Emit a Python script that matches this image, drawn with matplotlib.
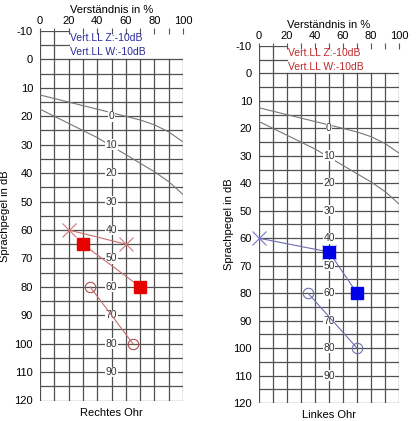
import numpy as np
import matplotlib
matplotlib.use("Agg")
import matplotlib.pyplot as plt

plt.rcParams['font.family'] = ['Liberation Sans', 'DejaVu Sans']
plt.rcParams['axes.unicode_minus'] = False

# Normkurven (Zahlen / Einsilber), Pegel in dB ueber Verstaendnis in %
norm_z_pct = [0, 20, 40, 60, 70, 80, 90, 100]
norm_z_db = [12.5, 15, 17.5, 20, 21.3, 23, 25.5, 29]
norm_w_pct = [0, 20, 40, 55, 70, 80, 90, 100]
norm_w_db = [17.5, 22.5, 27.5, 32, 36.5, 39.5, 43, 47.5]

# Hoerverlust-Skala in der Mitte
loss_labels = [0, 10, 20, 30, 40, 50, 60, 70, 80, 90]
loss_db = [20, 30, 40, 50, 60, 70, 80, 90, 100, 110]

# Rechtes Ohr
re_x_pct = [20, 60]
re_x_db = [60, 65]
re_sq_pct = [30, 70]
re_sq_db = [65, 80]
re_o_pct = [35, 65]
re_o_db = [80, 100]

# Linkes Ohr
li_x_pct = [0, 50]
li_x_db = [60, 65]
li_sq_pct = [50, 70]
li_sq_db = [65, 80]
li_o_pct = [35, 70]
li_o_db = [80, 100]

vert_ll = ["Vert.LL Z:-10dB", "Vert.LL W:-10dB"]

fig = plt.figure(figsize=(4.16, 4.21), dpi=100)
W, H = 416, 421


def panel(rect, ear, col_line, col_x, col_sq, col_o, col_txt,
          xp, xd, sp, sd, op, od, ylab_x):
    l, t, r, b = rect
    ax = fig.add_axes([l / W, 1 - b / H, (r - l) / W, (b - t) / H])
    ax.set_xlim(0, 100)
    ax.set_ylim(120, -10)
    for s in ax.spines.values():
        s.set_visible(False)
    g = dict(color='#505050', lw=0.9, zorder=1)
    for y in np.arange(0, 121, 5):
        ax.plot([0, 100], [y, y], **g)
    for y in [-10, -5]:
        ax.plot([0, 20], [y, y], **g)
    for x in np.arange(0, 101, 10):
        ax.plot([x, x], [-10 if x <= 10 else 0, 120], **g)

    ax.plot(norm_z_pct, norm_z_db, color='#777777', lw=0.8, zorder=2)
    ax.plot(norm_w_pct, norm_w_db, color='#777777', lw=0.8, zorder=2)
    for v, y in zip(loss_labels, loss_db):
        ax.text(50, y, str(v), ha='center', va='center', fontsize=7.5,
                color='#333333', zorder=3,
                bbox=dict(facecolor='white', edgecolor='none', pad=0.3))

    ax.text(21, -7.5, vert_ll[0], color=col_txt, fontsize=7.5, va='center')
    ax.text(21, -2.5, vert_ll[1], color=col_txt, fontsize=7.5, va='center')

    ax.plot(xp, xd, color=col_line, lw=0.8, marker='x', ms=10, mew=0.8,
            mec=col_x, zorder=4, clip_on=False)
    ax.plot(sp, sd, color=col_line, lw=0.8, zorder=4)
    ax.plot(sp, sd, ls='none', marker='s', ms=8, color=col_sq, zorder=5)
    ax.plot(op, od, color=col_line, lw=0.8, marker='o', ms=7.5, mfc='none',
            mew=0.8, mec=col_o, zorder=4)

    ax.xaxis.tick_top()
    ax.set_xticks(np.arange(0, 101, 20))
    ax.set_xticks(np.arange(10, 100, 20), minor=True)
    ax.tick_params(axis='x', which='both', direction='inout', length=5,
                   width=0.8, color='#555555', labelsize=8, pad=1)
    ax.set_yticks(np.arange(-10, 121, 10))
    ax.tick_params(axis='y', length=0, labelsize=8, pad=5)
    ax.set_xlabel('Verständnis in %', fontsize=8, labelpad=2)
    ax.xaxis.set_label_position('top')
    ax.set_ylabel('Sprachpegel in dB', fontsize=8)
    ax.yaxis.set_label_coords(ylab_x, 0.5)
    ax.text(50, 122.5, ear, ha='center', va='top', fontsize=8)
    return ax


panel((40, 31, 183, 400.5), 'Rechtes Ohr', '#c86e6e', '#d27878', '#e60000',
      '#b05050', '#2a2a9a', re_x_pct, re_x_db, re_sq_pct, re_sq_db,
      re_o_pct, re_o_db, -0.21)
panel((259, 46, 399, 403), 'Linkes Ohr', '#6e6eb4', '#7878c8', '#0000e6',
      '#7070a8', '#c02828', li_x_pct, li_x_db, li_sq_pct, li_sq_db,
      li_o_pct, li_o_db, -0.18)

fig.savefig('out.png', dpi=100, facecolor='white')
